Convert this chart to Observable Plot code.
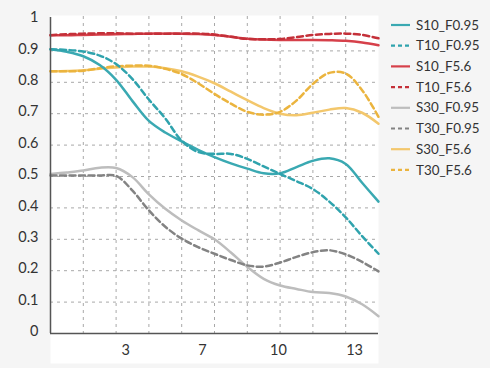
<!DOCTYPE html>
<html><head><meta charset="utf-8">
<script src="https://cdn.jsdelivr.net/npm/d3@7"></script>
<script src="https://cdn.jsdelivr.net/npm/@observablehq/plot@0.6"></script>
<style>
body{margin:0;background:#f5f5f5;font-family:Lato,sans-serif;}
#wrap{position:relative;width:490px;height:368px;overflow:hidden;}
#wrap svg{position:absolute;left:0;top:0;}
</style></head><body><div id="wrap"></div>
<script>
// x positions in grid units (0..10), sampled every 0.5
const xs = [0,0.5,1,1.5,2,2.5,3,3.5,4,4.5,5,5.5,6,6.5,7,7.5,8,8.5,9,9.5,10];
const seriesNames = ["S10_F0.95","T10_F0.95","S10_F5.6","T10_F5.6","S30_F0.95","T30_F0.95","S30_F5.6","T30_F5.6"];
const S10_F095 = [0.905,0.897,0.883,0.855,0.808,0.74,0.677,0.64,0.612,0.585,0.562,0.542,0.525,0.51,0.51,0.53,0.55,0.558,0.54,0.48,0.42];
const T10_F095 = [0.905,0.903,0.898,0.885,0.858,0.81,0.745,0.685,0.614,0.578,0.572,0.572,0.556,0.532,0.508,0.485,0.46,0.42,0.37,0.31,0.254];
const S10_F56  = [0.95,0.95,0.951,0.952,0.953,0.954,0.955,0.955,0.955,0.954,0.951,0.945,0.939,0.936,0.935,0.935,0.935,0.934,0.932,0.927,0.918];
const T10_F56  = [0.95,0.953,0.955,0.956,0.956,0.955,0.955,0.955,0.955,0.955,0.952,0.945,0.938,0.937,0.938,0.944,0.951,0.954,0.955,0.951,0.94];
const S30_F095 = [0.508,0.513,0.519,0.528,0.527,0.498,0.443,0.397,0.36,0.329,0.3,0.258,0.212,0.174,0.153,0.142,0.132,0.129,0.118,0.093,0.055];
const T30_F095 = [0.503,0.503,0.503,0.503,0.502,0.455,0.392,0.34,0.302,0.275,0.254,0.234,0.217,0.213,0.226,0.244,0.259,0.265,0.252,0.228,0.198];
const S30_F56  = [0.835,0.836,0.838,0.843,0.847,0.85,0.85,0.845,0.835,0.818,0.797,0.77,0.743,0.718,0.7,0.695,0.703,0.713,0.718,0.703,0.668];
const T30_F56  = [0.835,0.835,0.837,0.845,0.851,0.853,0.853,0.843,0.826,0.797,0.763,0.732,0.706,0.697,0.706,0.742,0.795,0.83,0.828,0.775,0.69];
const seriesValues = [S10_F095,T10_F095,S10_F56,T10_F56,S30_F095,T30_F095,S30_F56,T30_F56];
const seriesColors = ["#3aa9b2","#2fa3ad","#d6404a","#c43039","#bdbdbd","#838383","#f3c76c","#ebb43e"];
const seriesDashed = [false,true,false,true,false,true,false,true];

const xTickPos = [2.29,4.63,6.95,9.27];
const xTickLabels = ["3","7","10","13"];
const xGrid = [1,2,3,4,5,6,7,8,9];
const yTicks = [0,0.1,0.2,0.3,0.4,0.5,0.6,0.7,0.8,0.9,1];
const yTickLabels = ["0","0.1","0.2","0.3","0.4","0.5","0.6","0.7","0.8","0.9","1"];
const yGrid = [0.1,0.2,0.3,0.4,0.5,0.6,0.7,0.8,0.9];

const xLabelMap = new Map(xTickPos.map((p,i)=>[p,xTickLabels[i]]));
const yLabelMap = new Map(yTicks.map((p,i)=>[p,yTickLabels[i]]));

const lineMarks = seriesNames.map((name,i) => {
  const rows = xs.map((x,j)=>({x, y: seriesValues[i][j]}));
  return Plot.line(rows, {x:"x", y:"y", curve:"catmull-rom", stroke: seriesColors[i],
    strokeWidth: 2.5, strokeDasharray: seriesDashed[i] ? "6,3.5" : null});
});
// draw order: grays and yellows underneath, teal/red on top
const order = [4,5,6,7,2,3,0,1];

const plot = Plot.plot({
  width: 490, height: 368,
  marginLeft: 50, marginRight: 112, marginTop: 19, marginBottom: 35,
  style: {background: "transparent", fontFamily: "Lato, sans-serif", fontSize: "14.5px", color: "#333"},
  x: {domain: [0,10]},
  y: {domain: [0,1]},
  marks: [
    Plot.frame({fill: "white", stroke: null, insetTop: -4, insetBottom: -30}),
    Plot.gridX(xGrid, {stroke: "#a8a8a8", strokeOpacity: 1, strokeDasharray: "3,4", strokeWidth: 1, insetTop: -3}),
    Plot.gridY(yGrid, {stroke: "#a8a8a8", strokeOpacity: 1, strokeDasharray: "3,4", strokeWidth: 1}),
    ...order.map(i => lineMarks[i]),
    Plot.ruleX([0], {stroke: "#555", strokeWidth: 1.5, insetTop: -2}),
    Plot.ruleY([0], {stroke: "#555", strokeWidth: 1.5}),
    Plot.axisX(xTickPos, {tickSize: 0, tickPadding: 11, tickFormat: d => xLabelMap.get(d), fontSize: 14.5, fill: "#333", label: null}),
    Plot.axisY(yTicks, {tickSize: 0, tickPadding: 12, tickFormat: d => yLabelMap.get(d), fontSize: 14.5, fill: "#333", label: null, dy: -2})
  ]
});
const wrap = document.getElementById("wrap");
wrap.appendChild(plot);

// legend
const leg = d3.select(wrap).append("svg").attr("width",490).attr("height",368)
  .style("font-family","Lato, sans-serif");
const rowY0 = 25, rowStep = 20.7;
seriesNames.forEach((name,i) => {
  const y = rowY0 + i*rowStep;
  leg.append("line").attr("x1",391).attr("x2",410).attr("y1",y).attr("y2",y)
    .attr("stroke",seriesColors[i]).attr("stroke-width",2.2)
    .attr("stroke-dasharray", seriesDashed[i] ? "4,3" : null);
  leg.append("text").attr("x",416).attr("y",y).attr("dy","0.35em")
    .attr("font-size","13.4px").attr("fill","#333").text(name);
});
</script></body></html>
